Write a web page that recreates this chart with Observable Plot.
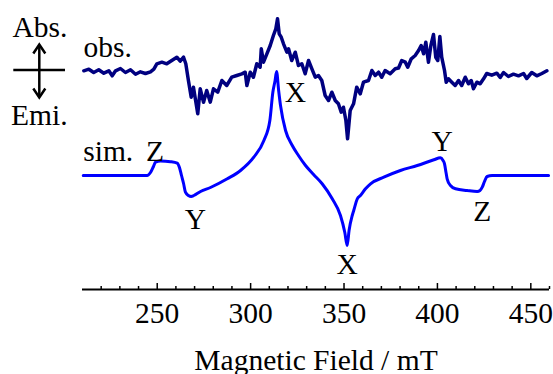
<!DOCTYPE html>
<html><head><meta charset="utf-8">
<script src="https://cdn.jsdelivr.net/npm/d3@7"></script>
<script src="https://cdn.jsdelivr.net/npm/@observablehq/plot@0.6"></script>
<style>
body{margin:0;background:#fff}
#wrap{position:relative;width:553px;height:374px}
#legend{position:absolute;left:0;top:0}
</style>
</head><body><div id="wrap"></div>
<script>
// Magnetic field (mT) and signal (arbitrary units)
const obsField = [210.7,213.4,216.0,218.7,221.4,224.1,225.9,227.7,230.3,233.0,
  235.7,238.4,241.0,243.7,246.4,248.2,
  249.8,252.5,255.1,257.8,260.5,262.3,264.1,265.3,
  266.7,268.2,269.4,270.7,271.7,273.0,274.8,276.5,278.4,280.1,
  282.4,284.6,287.2,289.9,292.6,295.3,297.1,298.0,299.8,301.5,
  303.3,305.1,305.7,306.9,308.7,310.5,312.2,313.5,314.4,315.3,
  316.4,317.6,319.4,320.3,322.0,323.9,325.6,327.4,329.2,331.0,
  332.8,334.6,336.3,338.1,339.9,341.7,343.5,345.3,347.0,348.5,
  349.7,351.0,351.9,353.3,355.1,356.8,358.7,360.4,363.1,364.9,
  366.7,368.5,370.2,372.0,374.7,377.4,379.2,380.9,382.8,384.1,
  386.0,388.1,389.9,391.3,392.6,393.8,395.2,396.5,397.9,399.1,
  400.2,401.3,402.3,403.8,404.7,405.9,407.7,409.5,411.3,413.0,
  414.9,416.6,418.1,419.3,421.1,422.9,424.7,
  426.4,429.1,431.8,433.6,435.4,438.0,440.7,443.4,446.1,447.8,
  450.5,453.2,455.9,458.6];
const obsSignal = [-0.3,1.3,-2,0.7,-2.7,-0.3,-5.3,-0.3,2,-2,
  0.7,-3.7,-1.3,-3,-1.3,1.3,
  6.7,8.3,6.7,10,13.3,9.3,13.3,6.7,
  -10,-26.7,-16.7,-31.7,-43.3,-18.3,-31.7,-20,-31.7,-18.3,
  -21.7,-10,-15,-6.7,-5,-3.3,-1.7,-15,-1.7,-6.7,
  6.7,3.3,21.7,8.3,16.7,25,35,41.7,51.7,36.7,
  33.3,26.7,18.3,21.7,10,18.3,5,6.7,-3.3,10,
  1.7,-6.7,-5,-10,-25,-30,-21.7,-30,-33.3,-41.7,
  -36.7,-50,-68.3,-40,-33.3,-16.7,-23.3,-11.7,-10,0,
  -5,-1.7,-6.7,0,-3.3,1.7,2.5,10,8.3,3.3,
  11.7,15,20,25,16.7,28.3,8.3,25,36,13.3,
  10,34,13.3,0,-11.7,-8.3,-11.7,-15,-10,-15,
  -6.7,-13.3,-10,-18.3,-11.7,-13.3,-8.3,
  -3,-4.7,-2.7,-7,-2,-6,-3.7,-5.3,-3,-8,
  -2,-5.3,-3,-0.3];
const simField = [210.4,244.6,246.4,248.0,249.1,251.8,257.1,260.7,261.9,263.0,
  264.1,265.1,266.7,268.2,269.6,273.2,278.5,287.5,294.6,301.7,
  307.1,310.3,311.9,313.1,313.9,315.0,316.0,318.7,322.3,325.6,
  329.4,333.7,338.3,343.7,348.1,350.4,351.7,352.7,354.4,355.2,
  357.1,358.8,361.5,364.2,371.3,380.2,389.2,398.1,401.6,403.0,
  403.8,404.6,405.2,407.0,409.7,415.9,421.3,422.8,424.0,425.2,
  426.6,429.3,459.5];
const simSignal = [0,0,3,9,13.3,14.5,13.8,12.3,8,0,
  -8,-16.7,-20,-21,-20,-16,-12,-3.3,5,18.3,
  35,55,83.3,95,104,85,70,45,30,20,
  10,1,-8.3,-23.3,-40,-56.7,-70,-55,-40,-35,
  -23.3,-20,-13.3,-8.3,-1.7,5,10,15.7,17.7,15,
  11.7,3,-3.3,-10,-13.3,-15,-16,-15,-11.7,-6,
  -1,0,0];
const obsOffset = 219;
const simOffset = 114;
const majorTicks = [250,300,350,400,450];
const minorTicks = [220,230,240,260,270,280,290,310,320,330,340,360,370,380,390,410,420,430,440,460];
const xLabel = "Magnetic Field / mT";
const seriesNames = ["obs.","sim."];
const seriesNameField = [210.5,210.4];
const seriesNameY = [232.3,128.5];
const annLabels = ["X","Z","Y","X","Y","Z"];
const annField = [324.0,248.8,270.5,351.7,402.6,424.0];
const annY = [187.3,128.5,60.7,15.7,138.3,68.3];
const legendTop = "Abs.";
const legendBottom = "Emi.";

const obs = obsField.map((f,i)=>({f, v: obsSignal[i] + obsOffset}));
const sim = simField.map((f,i)=>({f, v: simSignal[i] + simOffset}));
const names = seriesNames.map((t,i)=>({t, f: seriesNameField[i], v: seriesNameY[i]}));
const anns = annLabels.map((t,i)=>({t, f: annField[i], v: annY[i]}));

const FONT = "'Liberation Serif', 'Times New Roman', serif";
const FS = 29.5;

const chart = Plot.plot({
  width: 553, height: 374,
  marginLeft: 82, marginRight: 4, marginTop: 0, marginBottom: 85,
  style: {fontFamily: FONT, background: "#fff", color: "#000"},
  x: {domain: [210, 460], axis: null},
  y: {domain: [0, 289], axis: null},
  marks: [
    Plot.ruleY([0], {stroke: "#000", strokeWidth: 2}),
    Plot.ruleX(minorTicks, {x: d => d, y1: 0, y2: 3, stroke: "#000", strokeWidth: 1.5}),
    Plot.ruleX(majorTicks, {x: d => d, y1: 0, y2: 6, stroke: "#000", strokeWidth: 1.5}),
    Plot.axisX({ticks: majorTicks, tickSize: 0, tickPadding: 13, fontSize: FS, tickFormat: d => String(d), label: null}),
    Plot.text([xLabel], {text: d => d, frameAnchor: "bottom", dy: 80, lineAnchor: "bottom", fontSize: FS, fill: "#000"}),
    Plot.line(obs, {x: "f", y: "v", stroke: "#000080", strokeWidth: 3.5, strokeLinejoin: "round"}),
    Plot.line(sim, {x: "f", y: "v", stroke: "#0000ff", strokeWidth: 3, curve: "monotone-x"}),
    Plot.text(names, {x: "f", y: "v", text: "t", textAnchor: "start", lineAnchor: "bottom", fontSize: FS, fill: "#000"}),
    Plot.text(anns, {x: "f", y: "v", text: "t", textAnchor: "middle", lineAnchor: "bottom", fontSize: FS, fill: "#000"})
  ]
});
const wrap = document.getElementById("wrap");
wrap.appendChild(chart);

// Legend: absorption / emission indicator
const lg = d3.select(wrap).append("svg").attr("id","legend").attr("width",80).attr("height",140)
  .style("font-family", FONT).style("font-size", FS + "px");
lg.append("text").attr("x",12.5).attr("y",36.7).text(legendTop);
lg.append("text").attr("x",11).attr("y",125).text(legendBottom);
const g = lg.append("g").attr("stroke","#000").attr("stroke-width",2.5).attr("fill","none").attr("stroke-linecap","butt");
g.append("line").attr("x1",13.3).attr("x2",65).attr("y1",70).attr("y2",70);
g.append("line").attr("x1",39.3).attr("x2",39.3).attr("y1",45).attr("y2",97);
g.append("path").attr("d","M33.3,53.5L39.3,44.5L45.3,53.5");
g.append("path").attr("d","M33.3,88.5L39.3,97.5L45.3,88.5");
</script>
</body></html>
